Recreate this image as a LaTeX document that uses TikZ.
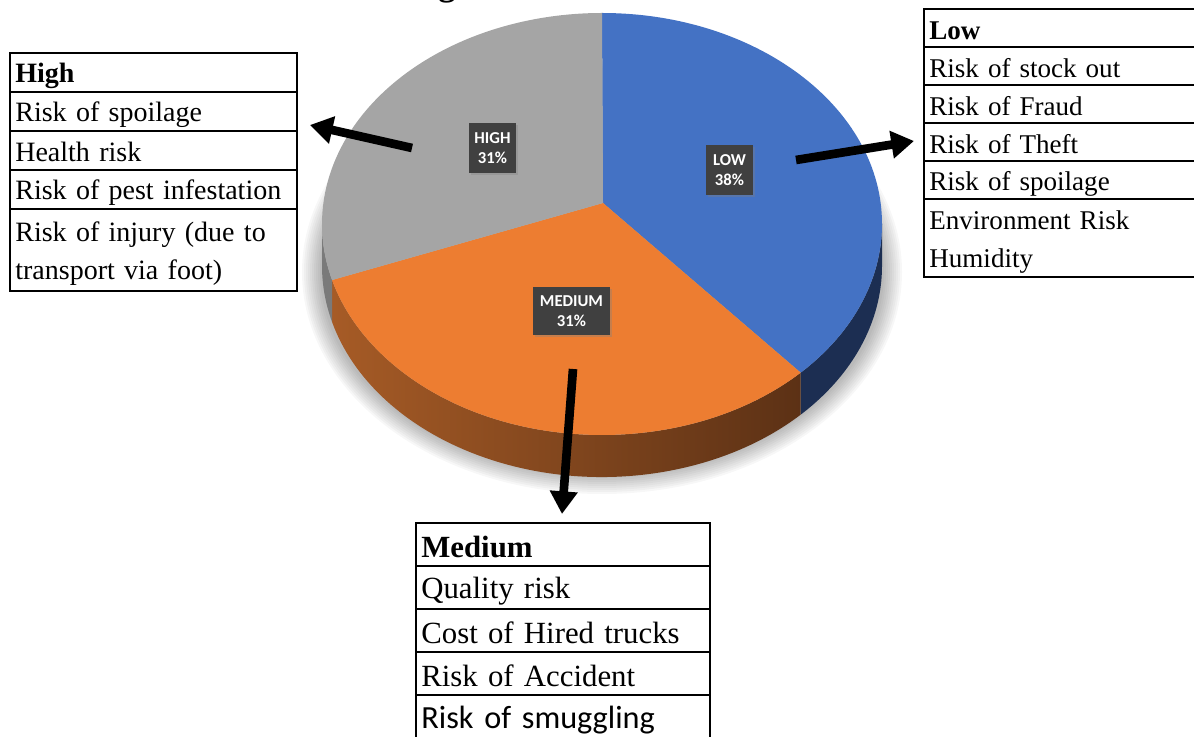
\documentclass[tikz,border=0pt]{standalone}
\usepackage{fontspec}
\setmainfont{Liberation Serif}
\newfontfamily\lblfont{Carlito}
\usetikzlibrary{arrows.meta,shadows}
\definecolor{pieblue}{HTML}{4472C4}
\definecolor{pieorange}{HTML}{ED7D31}
\definecolor{piegray}{HTML}{A5A5A5}
\definecolor{sideblue}{HTML}{1C2E52}
\definecolor{sidebrownL}{HTML}{A65B26}
\definecolor{sidebrownR}{HTML}{5C3115}
\definecolor{sidegray}{HTML}{7A7A7A}
\definecolor{lblbox}{HTML}{404040}
\begin{document}
\begin{tikzpicture}[x=0.75pt, y=-0.75pt,
    cell/.style={draw, line width=1.5pt, rectangle, anchor=north west, outer sep=0pt,
        inner xsep=4pt, inner ysep=0pt, align=left,
        execute at begin node=\rule[-3pt]{0pt}{23pt}, execute at end node=\rule[-3pt]{0pt}{23pt}},
    hicell/.style={cell, text width=207.25pt, minimum height=29.25pt,
        font=\fontsize{21}{28.5}\selectfont},
    locell/.style={cell, text width=209.5pt, minimum height=28.5pt,
        font=\fontsize{20.3}{28.5}\selectfont},
    mecell/.style={cell, text width=212.5pt, minimum height=32.25pt,
        execute at begin node=\rule[-3pt]{0pt}{25pt},
        font=\fontsize{23.1}{31}\selectfont},
    pielbl/.style={fill=lblbox, text=white, align=center, inner sep=0pt,
        font=\lblfont\bfseries\fontsize{12.5}{15.5}\selectfont,
        drop shadow={opacity=0.35, shadow xshift=1.5pt, shadow yshift=-1.5pt}},
    bigarrow/.style={line width=6.5pt, -{Triangle[length=17pt, width=20pt]}}]
\useasboundingbox (0,0) rectangle (1194,737);

% title, cut by the page
\node[font=\bfseries\fontsize{26}{30}\selectfont, anchor=base] (ttl) at (447,-4) {g};

% shadow under the pie
\foreach \i in {0,...,9}
    \fill[black, opacity=0.03] (602,272) ellipse[x radius=300-2*\i, y radius=222-2*\i];

% pie
\coordinate (pc) at (603,203);
\coordinate (ec) at (602,224);
\fill[sideblue] ([shift={(0:280 and 211)}]ec) arc[start angle=0, end angle=44.8, x radius=280, y radius=211]
    -- ++(0,42) arc[start angle=44.8, end angle=0, x radius=280, y radius=211] -- cycle;
\shade[left color=sidebrownL, middle color=sidebrownR, right color=sidebrownR]
    ([shift={(44.8:280 and 211)}]ec) arc[start angle=44.8, end angle=164.6, x radius=280, y radius=211]
    -- ++(0,42) arc[start angle=164.6, end angle=44.8, x radius=280, y radius=211] -- cycle;
\fill[sidegray] ([shift={(164.6:280 and 211)}]ec) arc[start angle=164.6, end angle=180, x radius=280, y radius=211]
    -- ++(0,42) arc[start angle=180, end angle=164.6, x radius=280, y radius=211] -- cycle;
\fill[pieblue] (pc) -- ([shift={(270:280 and 211)}]ec)
    arc[start angle=270, end angle=404.8, x radius=280, y radius=211] -- cycle;
\fill[pieorange] (pc) -- ([shift={(44.8:280 and 211)}]ec)
    arc[start angle=44.8, end angle=164.6, x radius=280, y radius=211] -- cycle;
\fill[piegray] (pc) -- ([shift={(164.6:280 and 211)}]ec)
    arc[start angle=164.6, end angle=270, x radius=280, y radius=211] -- cycle;

\node[pielbl, minimum width=35.25pt, minimum height=37.5pt] (hiLbl) at (492.5,148) {HIGH\\31\%};
\node[pielbl, minimum width=35.25pt, minimum height=37.5pt] (loLbl) at (729.5,170) {LOW\\38\%};
\node[pielbl, minimum width=57.75pt, minimum height=36pt] (meLbl) at (571.5,311) {MEDIUM\\31\%};

% arrows to the tables
\coordinate (hiTail) at (412,148);
\coordinate (hiTip) at (310,125);
\coordinate (loTail) at (796,160);
\coordinate (loTip) at (914,141);
\coordinate (meTail) at (573,369);
\coordinate (meTip) at (562,514);
\draw[bigarrow] (hiTail) -- (hiTip);
\draw[bigarrow] (loTail) -- (loTip);
\draw[bigarrow] (meTail) -- (meTip);

% high
\node[hicell] (hi0) at (10,53) {\textbf{High}};
\node[hicell] (hi1) at (hi0.south west) {Risk of spoilage};
\node[hicell] (hi2) at (hi1.south west) {Health risk};
\node[hicell] (hi3) at (hi2.south west) {Risk of pest infestation};
\node[hicell, minimum height=61.5pt] (hi4) at (hi3.south west) {Risk of injury (due to\\transport via foot)};

% low
\node[locell] (lo0) at (924,9) {\textbf{Low}};
\node[locell] (lo1) at (lo0.south west) {Risk of stock out};
\node[locell] (lo2) at (lo1.south west) {Risk of Fraud};
\node[locell] (lo3) at (lo2.south west) {Risk of Theft};
\node[locell] (lo4) at (lo3.south west) {Risk of spoilage};
\node[locell, minimum height=58.5pt] (lo5) at (lo4.south west) {Environment Risk\\Humidity};

% medium
\node[mecell] (me0) at (416,523) {\textbf{Medium}};
\node[mecell] (me1) at (me0.south west) {Quality risk};
\node[mecell] (me2) at (me1.south west) {Cost of Hired trucks};
\node[mecell] (me3) at (me2.south west) {Risk of Accident};
\node[mecell, font=\lblfont\fontsize{24.2}{31}\selectfont] (me4) at (me3.south west) {Risk of smuggling};
\end{tikzpicture}
\end{document}
